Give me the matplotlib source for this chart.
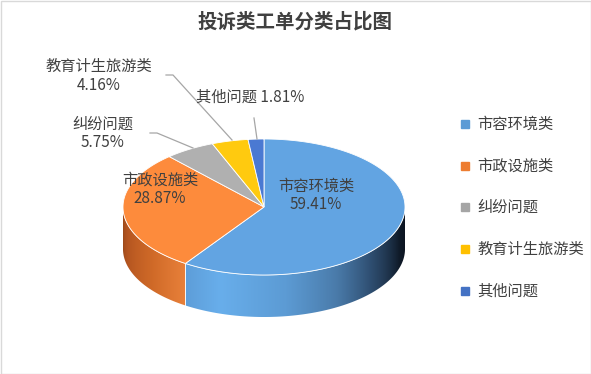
import numpy as np
import matplotlib
matplotlib.use("Agg")
import matplotlib.pyplot as plt
from matplotlib.patches import Polygon, Rectangle

plt.rcParams['font.family'] = ['Noto Sans CJK SC', 'DejaVu Sans']

title = "投诉类工单分类占比图"
categories = ["市容环境类", "市政设施类", "纠纷问题", "教育计生旅游类", "其他问题"]
values = [59.41, 28.87, 5.75, 4.16, 1.81]
top_colors = ["#62A4E2", "#FD8B3C", "#B0B0B0", "#FFCA0F", "#4A79D2"]
legend_colors = ["#5B9BD5", "#ED7D31", "#A5A5A5", "#FFC000", "#4472C4"]

# side shading anchors (angle in degrees, rgb)
side_shades = {
    0: [(-124, (93, 157, 216)), (-108, (104, 174, 235)), (-81, (92, 155, 212)),
        (-59, (74, 123, 170)), (-41, (47, 79, 114)), (-16, (15, 26, 40)), (0, (12, 20, 32))],
    1: [(-180, (150, 70, 25)), (-165, (180, 85, 32)), (-142, (208, 106, 40)), (-124, (232, 128, 58))],
}

W, H = 591, 374
fig = plt.figure(figsize=(W / 100, H / 100), dpi=100)
ax = fig.add_axes([0, 0, 1, 1])
ax.set_xlim(0, W)
ax.set_ylim(H, 0)
ax.axis('off')
ax.add_patch(Rectangle((0.5, 0.5), W - 1, H - 1, fill=False, edgecolor="#D9D9D9", lw=1))

cx, cy, a, b, depth = 264, 207, 141, 68, 42


def pt(t, d=0.0):
    r = np.radians(t)
    return cx + a * np.cos(r), cy - b * np.sin(r) + d


fr = np.array(values) / sum(values)
starts = 90 - np.concatenate([[0], np.cumsum(fr)[:-1]]) * 360
ends = starts - fr * 360


def shade(i, t):
    anc = side_shades[i]
    ts = [p[0] for p in anc]
    cols = np.array([p[1] for p in anc], dtype=float)
    return np.stack([np.interp(t, ts, cols[:, k]) for k in range(3)], axis=-1) / 255


# sides
for i in range(len(values)):
    s, e = starts[i], ends[i]
    for off in (0, -360, 360):
        l2, h2 = max(e + off, -180), min(s + off, 0)
        if h2 > l2:
            ts = np.linspace(l2, h2, 300)
            top = [pt(t) for t in ts]
            bot = [pt(t, depth) for t in ts[::-1]]
            poly = Polygon(top + bot, closed=True, facecolor="none", edgecolor="none")
            ax.add_patch(poly)
            x0, x1 = pt(l2)[0], pt(h2)[0]
            xs = np.linspace(x0, x1, 400)
            tt = -np.degrees(np.arccos(np.clip((xs - cx) / a, -1, 1)))
            img = shade(i, tt)[None, :, :]
            y0 = cy - b - 2
            y1 = cy + b + depth + 2
            im = ax.imshow(img, extent=(x0, x1, y1, y0), aspect="auto",
                           interpolation="bilinear", zorder=1)
            im.set_clip_path(poly)
            for tv in (l2, h2):
                if -179 < tv < -1:
                    xv, yv = pt(tv)
                    ax.plot([xv, xv], [yv, yv + depth], color="white", lw=0.6, alpha=0.8, zorder=2)
            arc = np.array(top)
            ax.plot(arc[:, 0], arc[:, 1], color="white", lw=0.6, alpha=0.7, zorder=2)

ax.set_xlim(0, W)
ax.set_ylim(H, 0)

# tops
for i in range(len(values)):
    ts = np.linspace(starts[i], ends[i], 200)
    verts = [(cx, cy)] + [pt(t) for t in ts]
    ax.add_patch(Polygon(verts, closed=True, facecolor=top_colors[i],
                         edgecolor="white", lw=0.6, zorder=3))

txt = "#404040"
fs = 11
# data labels
ax.text(316, 195, f"{categories[0]}\n{values[0]:.2f}%", ha="center", va="center",
        fontsize=fs, color=txt, linespacing=1.1, zorder=5)
ax.text(160, 189, f"{categories[1]}\n{values[1]:.2f}%", ha="center", va="center",
        fontsize=fs, color=txt, linespacing=1.1, zorder=5)
ax.text(103, 133, f"{categories[2]}\n{values[2]:.2f}%", ha="center", va="center",
        fontsize=fs, color=txt, linespacing=1.1, zorder=5)
ax.text(99, 76, f"{categories[3]}\n{values[3]:.2f}%", ha="center", va="center",
        fontsize=fs, color=txt, linespacing=1.1, zorder=5)
ax.text(250, 97, f"{categories[4]} {values[4]:.2f}%", ha="center", va="center",
        fontsize=fs, color=txt, zorder=5)

lc = "#A6A6A6"
ax.plot([150, 157, 193], [133, 133, 148], color=lc, lw=0.9, zorder=4)
ax.plot([166, 173, 232], [75, 75, 140], color=lc, lw=0.9, zorder=4)
ax.plot([254, 257], [118, 139], color=lc, lw=0.9, zorder=4)

# title
ax.text(295, 22, title, ha="center", va="center", fontsize=14, fontweight="bold", color="#404040")

# legend
ly = [124, 166, 207, 249, 291]
for c, lab, y in zip(legend_colors, categories, ly):
    ax.plot([465], [y], marker="s", ms=6, color=c, mec=c)
    ax.text(477, y, lab, ha="left", va="center", fontsize=fs, color=txt)

fig.savefig("out.png", dpi=100)
